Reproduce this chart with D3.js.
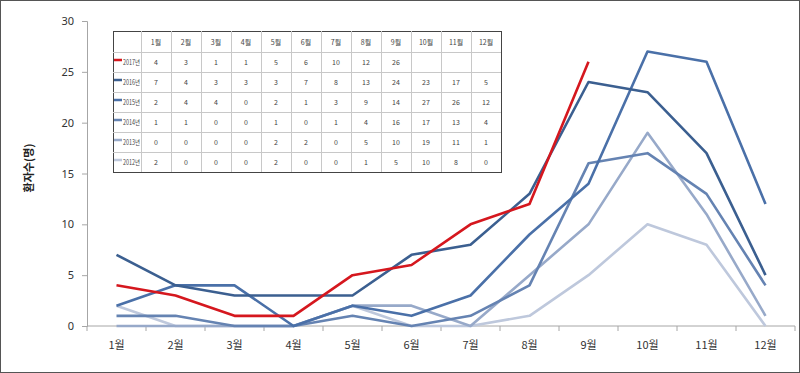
<!DOCTYPE html>
<html>
<head>
<meta charset="utf-8">
<script src="https://cdn.jsdelivr.net/npm/d3@7"></script>
<style>
  body { margin: 0; background: #fff; }
  svg { display: block; font-family: "Noto Sans CJK KR", "Noto Sans", sans-serif; }
</style>
</head>
<body>
<svg id="chart" width="800" height="373"></svg>
<script>
// ---- Data ----
const months = ['1월', '2월', '3월', '4월', '5월', '6월', '7월', '8월', '9월', '10월', '11월', '12월'];
const years = ['2017년', '2016년', '2015년', '2014년', '2013년', '2012년'];
const v2017 = [4, 3, 1, 1, 5, 6, 10, 12, 26, null, null, null];
const v2016 = [7, 4, 3, 3, 3, 7, 8, 13, 24, 23, 17, 5];
const v2015 = [2, 4, 4, 0, 2, 1, 3, 9, 14, 27, 26, 12];
const v2014 = [1, 1, 0, 0, 1, 0, 1, 4, 16, 17, 13, 4];
const v2013 = [0, 0, 0, 0, 2, 2, 0, 5, 10, 19, 11, 1];
const v2012 = [2, 0, 0, 0, 2, 0, 0, 1, 5, 10, 8, 0];
const yTicks = [0, 5, 10, 15, 20, 25, 30];
const yLabel = '환자수(명)';

const seriesValues = [v2017, v2016, v2015, v2014, v2013, v2012];
const colors = ['#d5171e', '#3b5f90', '#4a70a8', '#6583b2', '#97a9c9', '#bec8dc'];

const svg = d3.select('#chart');
const W = 800, H = 373;

// outer frame
svg.append('rect')
  .attr('x', 0.5).attr('y', 0.5)
  .attr('width', W - 1).attr('height', H - 1)
  .attr('fill', '#fff').attr('stroke', '#555');

// ---- Scales ----
const x = d3.scaleBand().domain(months).range([87, 795]);
const y = d3.scaleLinear().domain([0, 30]).range([326, 21]);
const cx = m => x(m) + x.bandwidth() / 2;

// ---- Y axis ----
const yAxis = svg.append('g')
  .attr('transform', 'translate(87,0)')
  .call(d3.axisLeft(y).tickValues(yTicks).tickSize(5).tickPadding(8));
yAxis.select('.domain').attr('stroke', '#a6a6a6');
yAxis.selectAll('.tick line').attr('stroke', '#a6a6a6');
yAxis.selectAll('.tick text').attr('font-size', 11).attr('fill', '#333')
  .attr('font-family', '"Noto Sans", sans-serif');

svg.append('text')
  .attr('transform', 'translate(33,168) rotate(-90)')
  .attr('text-anchor', 'middle')
  .attr('font-size', 11).attr('font-weight', 'bold').attr('fill', '#222')
  .text(yLabel);

// ---- X axis ----
const xg = svg.append('g').attr('transform', 'translate(0,326)');
xg.append('line')
  .attr('x1', x.range()[0]).attr('x2', x.range()[1])
  .attr('stroke', '#a6a6a6');
const bounds = months.map(m => x(m)).concat([x(months[months.length - 1]) + x.bandwidth()]);
xg.selectAll('.tk').data(bounds).join('line')
  .attr('x1', d => d).attr('x2', d => d)
  .attr('y1', 0).attr('y2', 5)
  .attr('stroke', '#a6a6a6');
xg.selectAll('.lbl').data(months).join('text')
  .attr('x', d => cx(d)).attr('y', 23)
  .attr('text-anchor', 'middle')
  .attr('font-size', 11).attr('fill', '#333')
  .text(d => d);

// ---- Lines (oldest first so 2017 sits on top) ----
const line = d3.line()
  .defined(d => d.v != null)
  .x(d => cx(d.m))
  .y(d => y(d.v));

const seriesData = years.map((yr, i) => ({
  year: yr,
  color: colors[i],
  points: months.map((m, j) => ({ m, v: seriesValues[i][j] }))
})).reverse();

svg.append('g').selectAll('path').data(seriesData).join('path')
  .attr('d', d => line(d.points))
  .attr('fill', 'none')
  .attr('stroke', d => d.color)
  .attr('stroke-width', 2.6)
  .attr('stroke-linejoin', 'round');

// ---- Data table ----
const tX0 = 113, tY0 = 31, firstW = 28, colW = 30, headH = 21, rowH = 20;
const tW = firstW + colW * months.length;
const tH = headH + rowH * years.length;
const tbl = svg.append('g');

tbl.append('rect')
  .attr('x', tX0 + 0.5).attr('y', tY0 + 0.5)
  .attr('width', tW).attr('height', tH)
  .attr('fill', '#fff').attr('stroke', '#444');

// inner grid
const colXs = d3.range(months.length).map(j => tX0 + firstW + j * colW);
tbl.selectAll('.vl').data(colXs).join('line')
  .attr('x1', d => d + 0.5).attr('x2', d => d + 0.5)
  .attr('y1', tY0).attr('y2', tY0 + tH)
  .attr('stroke', '#c8c8c8');
const rowYs = d3.range(years.length).map(i => tY0 + headH + i * rowH);
tbl.selectAll('.hl').data(rowYs).join('line')
  .attr('x1', tX0).attr('x2', tX0 + tW)
  .attr('y1', d => d + 0.5).attr('y2', d => d + 0.5)
  .attr('stroke', '#c8c8c8');

// header
tbl.selectAll('.hd').data(months).join('text')
  .attr('x', (d, j) => colXs[j] + colW / 2)
  .attr('y', tY0 + headH / 2 + 3)
  .attr('text-anchor', 'middle')
  .attr('font-size', 7).attr('fill', '#444')
  .text(d => d);

// rows
years.forEach((yr, i) => {
  const ry = tY0 + headH + i * rowH;
  tbl.append('line')
    .attr('x1', tX0 + 1).attr('x2', tX0 + 9)
    .attr('y1', ry + rowH / 2 - 2).attr('y2', ry + rowH / 2 - 2)
    .attr('stroke', colors[i]).attr('stroke-width', 2.5);
  tbl.append('text')
    .attr('x', tX0 + 10).attr('y', ry + rowH / 2 + 3)
    .attr('font-size', 7).attr('fill', '#444')
    .attr('textLength', 17).attr('lengthAdjust', 'spacingAndGlyphs')
    .text(yr);
  tbl.selectAll(null).data(seriesValues[i]).join('text')
    .attr('x', (d, j) => colXs[j] + colW / 2)
    .attr('y', ry + rowH / 2 + 3)
    .attr('text-anchor', 'middle')
    .attr('font-size', 7).attr('fill', '#444')
    .text(d => d == null ? '' : d);
});
</script>
</body>
</html>
